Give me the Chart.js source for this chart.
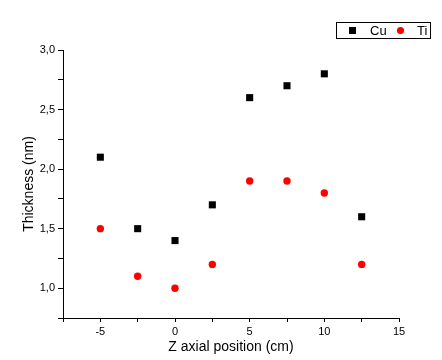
<!DOCTYPE html>
<html>
<head>
<meta charset="utf-8">
<script src="https://cdn.jsdelivr.net/npm/chart.js@4"></script>
<style>
html,body{margin:0;padding:0;background:#fff;}
#wrap{width:442px;height:360px;position:relative;}
</style>
</head>
<body>
<div id="wrap"><canvas id="c" width="442" height="360"></canvas></div>
<script>
const positions = [-5, -2.5, 0, 2.5, 5, 7.5, 10, 12.5];
const cuThickness = [2.1, 1.5, 1.4, 1.7, 2.6, 2.7, 2.8, 1.6];
const tiThickness = [1.5, 1.1, 1.0, 1.2, 1.9, 1.9, 1.8, 1.2];
const seriesNames = ['Cu', 'Ti'];
const xTitle = 'Z axial position (cm)';
const yTitle = 'Thickness (nm)';

const FONT = 'Arial, "Liberation Sans", sans-serif';

const legendPlugin = {
  id: 'boxLegend',
  afterDraw(chart) {
    const ctx = chart.ctx;
    ctx.save();
    ctx.strokeStyle = '#000';
    ctx.lineWidth = 1;
    ctx.strokeRect(336.5, 22.5, 94, 16);
    ctx.font = '13px ' + FONT;
    ctx.textBaseline = 'middle';
    ctx.fillStyle = '#000';
    ctx.fillRect(349, 27, 7, 7);
    ctx.fillText(seriesNames[0], 370, 31);
    ctx.fillStyle = '#ff0000';
    ctx.beginPath();
    ctx.arc(400.5, 30.5, 3.6, 0, Math.PI * 2);
    ctx.fill();
    ctx.fillStyle = '#000';
    ctx.fillText(seriesNames[1], 417, 31);
    ctx.restore();
  }
};

new Chart(document.getElementById('c'), {
  type: 'scatter',
  data: {
    datasets: [
      {
        label: seriesNames[0],
        data: positions.map((x, i) => ({x, y: cuThickness[i]})),
        pointStyle: 'rect',
        pointRadius: 5,
        pointHoverRadius: 5,
        backgroundColor: '#000',
        borderColor: '#000',
        borderWidth: 0
      },
      {
        label: seriesNames[1],
        data: positions.map((x, i) => ({x, y: tiThickness[i]})),
        pointStyle: 'circle',
        pointRadius: 3.7,
        pointHoverRadius: 3.7,
        backgroundColor: '#ff0000',
        borderColor: '#ff0000',
        borderWidth: 0
      }
    ]
  },
  options: {
    responsive: false,
    animation: false,
    layout: { padding: { top: 50, right: 43, left: 0, bottom: 0 } },
    plugins: { legend: { display: false }, tooltip: { enabled: false } },
    scales: {
      x: {
        type: 'linear',
        min: -7.5,
        max: 15,
        afterFit(s) { s.height = 42; },
        border: { display: true, color: '#000', width: 1 },
        grid: { display: true, drawOnChartArea: false, drawTicks: true, tickLength: 4, color: '#000' },
        ticks: {
          stepSize: 2.5,
          padding: 3,
          color: '#000',
          font: { family: FONT, size: 11 },
          maxRotation: 0,
          autoSkip: false,
          callback: v => (Math.abs(v % 5) < 1e-9 && v > -7) ? String(v) : ''
        },
        title: { display: true, text: xTitle, color: '#000', font: { family: FONT, size: 14 }, padding: { top: 0, bottom: 4 } }
      },
      y: {
        type: 'linear',
        min: 0.75,
        max: 3.0,
        afterFit(s) { s.width = 63; },
        border: { display: true, color: '#000', width: 1 },
        grid: { display: true, drawOnChartArea: false, drawTicks: true, tickLength: 5, color: '#000' },
        ticks: {
          stepSize: 0.25,
          padding: 3,
          color: '#000',
          font: { family: FONT, size: 11 },
          autoSkip: false,
          callback: v => (Math.abs((v * 2) - Math.round(v * 2)) < 1e-9) ? v.toFixed(1).replace('.', ',') : ''
        },
        title: { display: true, text: yTitle, color: '#000', font: { family: FONT, size: 14 }, padding: { top: 21, bottom: 0 } }
      }
    }
  },
  plugins: [legendPlugin]
});
</script>
</body>
</html>
